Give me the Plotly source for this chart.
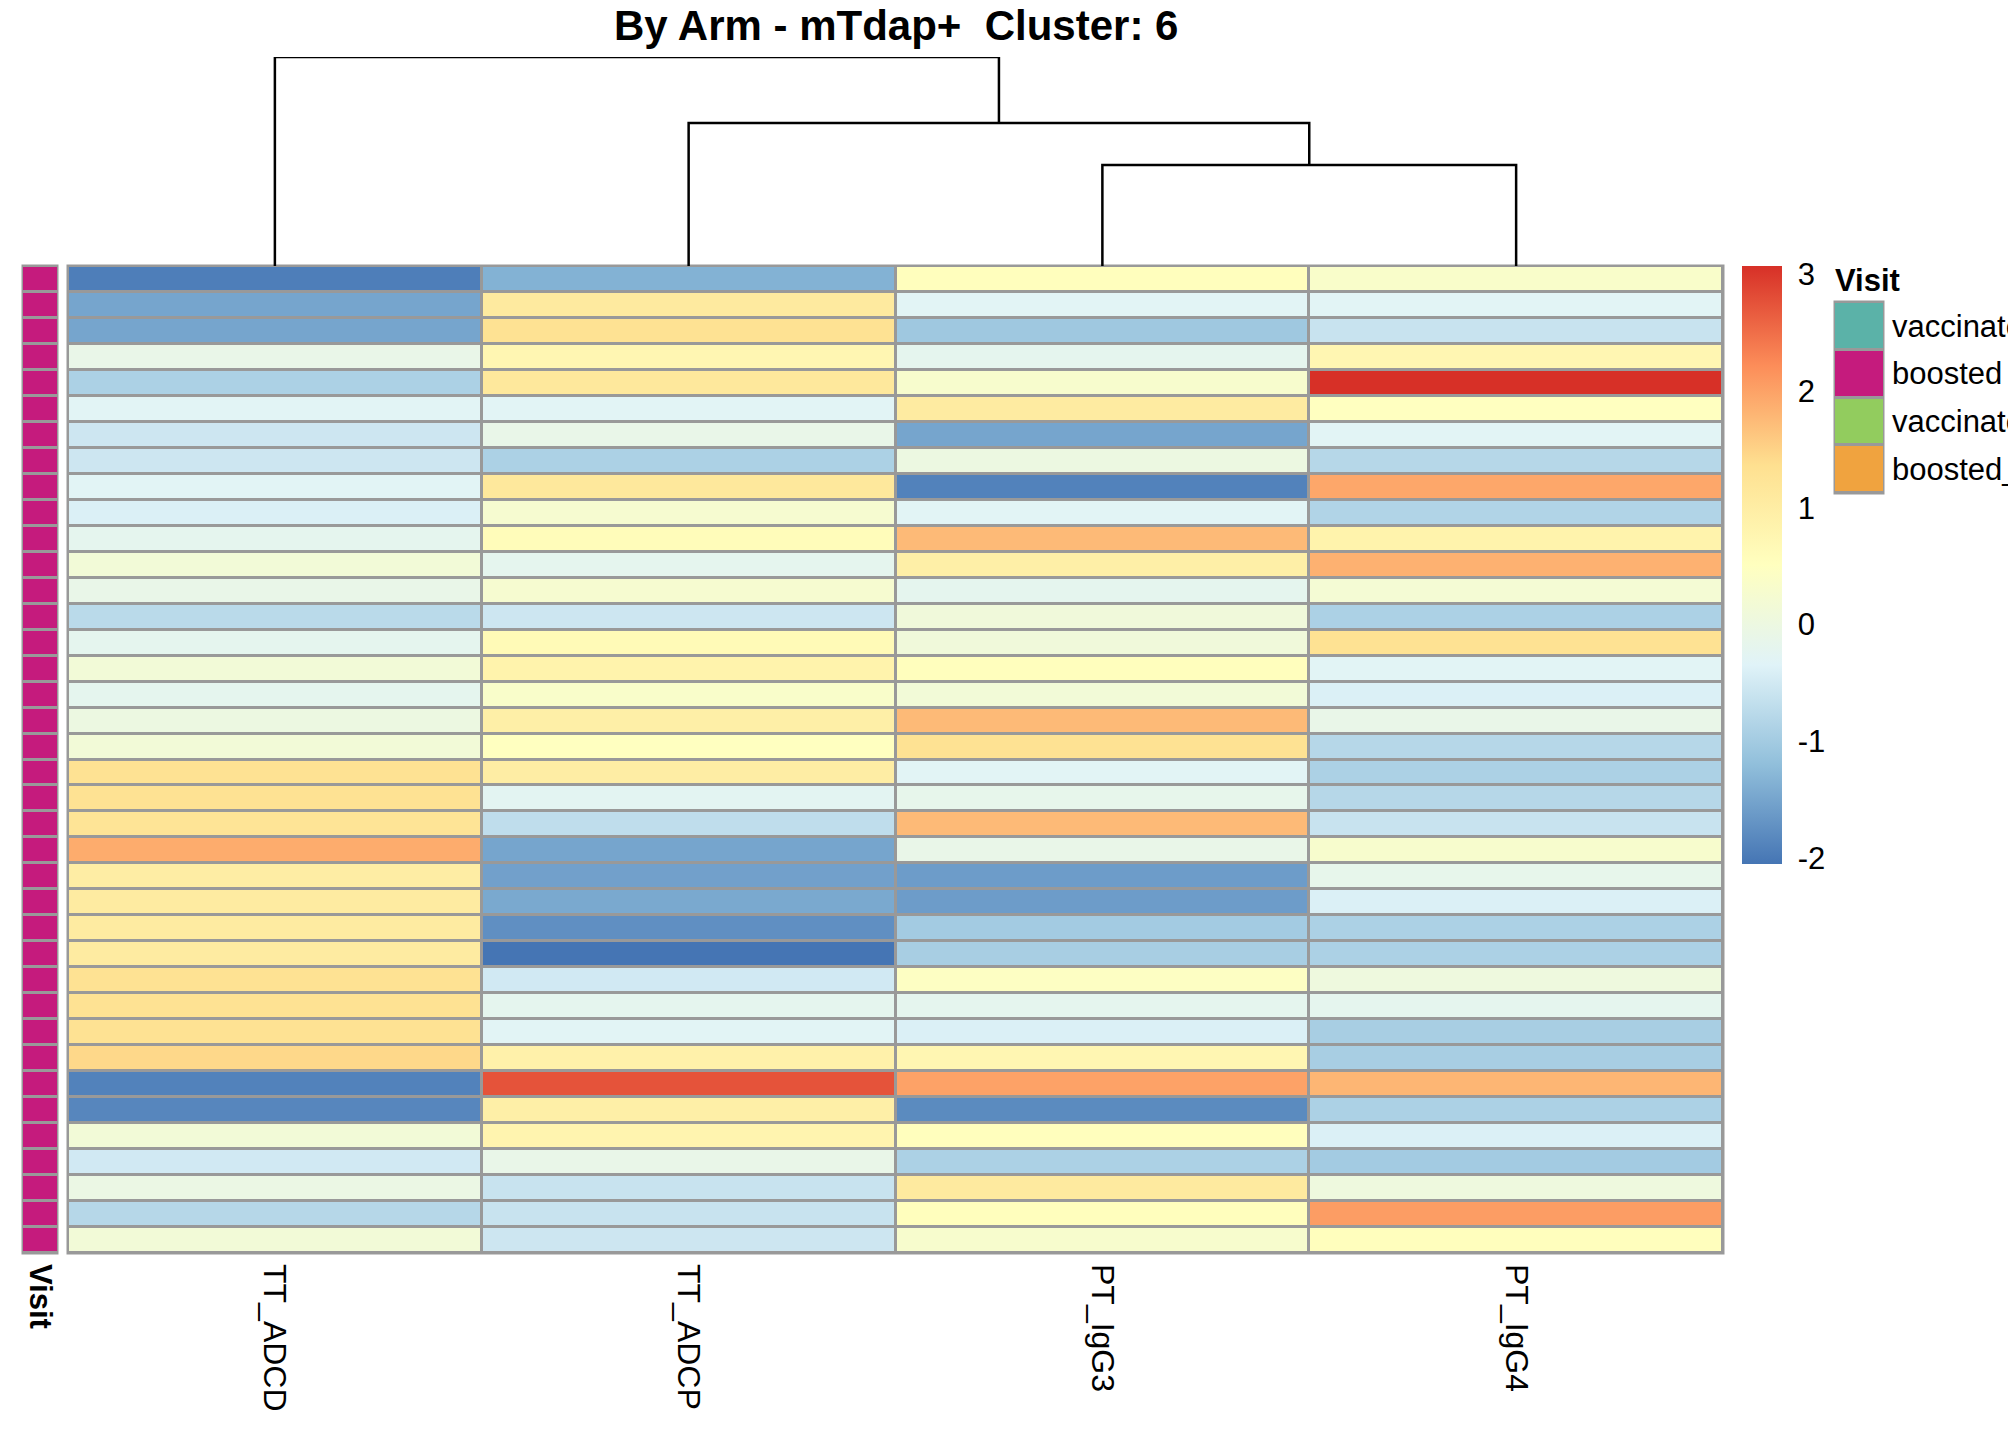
import plotly.graph_objects as go

W, H = 2016, 1440
FONT = "Liberation Sans, Arial, sans-serif"

# heatmap columns (order after clustering) and scaled values per row
columns = ["TT_ADCD", "TT_ADCP", "PT_IgG3", "PT_IgG4"]
tt_adcd = [-1.95, -1.5, -1.5, -0.1, -0.9, -0.3, -0.55, -0.55, -0.3, -0.4,
           -0.2, 0.15, -0.1, -0.75, -0.2, 0.15, -0.2, 0.0, 0.15, 1.3,
           1.3, 1.25, 1.9, 1.0, 1.05, 1.05, 1.05, 1.3, 1.3, 1.3,
           1.45, -1.9, -1.85, 0.15, -0.5, -0.05, -0.8, 0.15]
tt_adcp = [-1.35, 1.1, 1.3, 0.75, 1.15, -0.3, -0.1, -0.9, 1.15, 0.25,
           0.6, -0.2, 0.25, -0.55, 0.65, 0.85, 0.35, 0.95, 0.5, 1.0,
           -0.25, -0.7, -1.5, -1.55, -1.45, -1.75, -2.05, -0.5, -0.2, -0.3,
           0.9, 2.75, 0.95, 0.8, -0.1, -0.6, -0.6, -0.55]
pt_igg3 = [0.55, -0.3, -1.05, -0.2, 0.3, 1.05, -1.5, 0.0, -1.9, -0.3,
           1.75, 0.95, -0.2, 0.1, 0.1, 0.55, 0.15, 1.75, 1.3, -0.3,
           -0.15, 1.75, -0.1, -1.6, -1.6, -1.0, -0.95, 0.45, -0.2, -0.4,
           0.75, 2.0, -1.8, 0.55, -0.9, 1.1, 0.55, 0.3]
pt_igg4 = [0.35, -0.3, -0.6, 0.75, 3.07, 0.5, -0.3, -0.8, 1.95, -0.85,
           0.85, 1.85, 0.2, -0.9, 1.3, -0.3, -0.4, -0.1, -0.8, -0.9,
           -0.8, -0.6, 0.3, -0.15, -0.4, -0.9, -0.9, 0.05, -0.2, -0.95,
           -0.95, 1.8, -0.9, -0.4, -1.0, 0.05, 2.05, 0.55]

# row annotation
visit = ["boosted"] * 38
visit_levels = ["vaccinated", "boosted", "vaccinated_2", "boosted_2"]
visit_colors = ["#5BB2A8", "#C51B7D", "#92CC5E", "#F0A33F"]

# column dendrogram: merge i joins left/right (>=0 leaf index, <0 earlier merge), at height
merge_left = [2, 1, 0]
merge_right = [3, -1, -2]
merge_height = [0.483, 0.684, 1.0]

cbar_ticks = [-2, -1, 0, 1, 2, 3]
zmin, zmax = -2.05, 3.07
# pheatmap default: rev(brewer.pal(7, "RdYlBu"))
pal = ["#4575B4", "#91BFDB", "#E0F3F8", "#FFFFBF", "#FEE090", "#FC8D59", "#D73027"]
colorscale = [[i / (len(pal) - 1), c] for i, c in enumerate(pal)]

rows = list(range(1, len(tt_adcd) + 1))
z = [list(r) for r in zip(tt_adcd, tt_adcp, pt_igg3, pt_igg4)]

# page body has an 8px margin, so pixel targets are shifted back by it
OFF = 8


def fx(p):
    return (p - OFF) / W


def fy(p):
    return 1 - (p - OFF) / H


GRID = "#999999"
HM_X = [fx(68), fx(1723)]
HM_Y = [fy(1253), fy(266)]

fig = go.Figure()

fig.add_trace(go.Heatmap(
    z=z, x=columns, y=rows, xaxis="x", yaxis="y",
    colorscale=colorscale, zmin=zmin, zmax=zmax, xgap=3, ygap=3,
    colorbar=dict(x=fx(1742), xanchor="left", y=fy(266), yanchor="top",
                  lenmode="pixels", len=598, thickness=40, outlinewidth=0,
                  xpad=0, ypad=0, tickvals=cbar_ticks,
                  ticktext=[str(t) for t in cbar_ticks],
                  ticks="outside", ticklen=10, tickcolor="rgba(0,0,0,0)",
                  tickfont=dict(family=FONT, size=31, color="black")),
))

# visit annotation column
vis_idx = [[visit_levels.index(v)] for v in visit]
vis_scale = [[i / (len(visit_colors) - 1), c] for i, c in enumerate(visit_colors)]
fig.add_trace(go.Heatmap(
    z=vis_idx, x=["Visit"], y=rows, xaxis="x2", yaxis="y2",
    colorscale=vis_scale, zmin=0, zmax=len(visit_levels) - 1,
    showscale=False, ygap=3,
))

# legend swatches
fig.add_trace(go.Heatmap(
    z=[[i] for i in range(len(visit_levels))], x=[0], y=visit_levels,
    xaxis="x3", yaxis="y3",
    colorscale=vis_scale, zmin=0, zmax=len(visit_levels) - 1,
    showscale=False, ygap=3,
))

# dendrogram
node_x, node_h = [], []
dx, dy = [], []
for l, r, h in zip(merge_left, merge_right, merge_height):
    xl, hl = (l, 0) if l >= 0 else (node_x[-l - 1], node_h[-l - 1])
    xr, hr = (r, 0) if r >= 0 else (node_x[-r - 1], node_h[-r - 1])
    dx += [xl, xl, xr, xr, None]
    dy += [hl, h, h, hr, None]
    node_x.append((xl + xr) / 2)
    node_h.append(h)
fig.add_trace(go.Scatter(
    x=dx, y=dy, xaxis="x4", yaxis="y4", mode="lines",
    line=dict(color="black", width=2.5), cliponaxis=False, showlegend=False,
))

noax = dict(showgrid=False, zeroline=False, showline=False, ticks="",
            showticklabels=False, automargin=False)

fig.update_layout(
    width=W, height=H, margin=dict(l=0, r=0, t=0, b=0, autoexpand=False),
    paper_bgcolor="white", plot_bgcolor="white", showlegend=False,
    font=dict(family=FONT, color="black"),
    xaxis=dict(noax, domain=HM_X, showticklabels=True, tickangle=90,
               ticklabelstandoff=10, tickfont=dict(size=32), range=[-0.5, 3.5]),
    yaxis=dict(noax, domain=HM_Y, autorange="reversed"),
    xaxis2=dict(noax, domain=[fx(23), fx(57)], showticklabels=True, tickangle=90,
                tickvals=["Visit"], ticktext=["<b>Visit</b>"],
                ticklabelstandoff=10, tickfont=dict(size=31)),
    yaxis2=dict(noax, domain=HM_Y, autorange="reversed", anchor="x2"),
    xaxis3=dict(noax, domain=[fx(1835), fx(1883)], anchor="y3"),
    yaxis3=dict(noax, domain=[fy(493), fy(302)], anchor="x3", autorange="reversed",
                side="right", showticklabels=True, ticklabelstandoff=8,
                tickfont=dict(size=31)),
    xaxis4=dict(noax, domain=HM_X, range=[-0.5, 3.5], anchor="y4"),
    yaxis4=dict(noax, domain=[fy(266), fy(57)], range=[0, 1], anchor="x4"),
)

# grey cell borders / frames behind the tiles
for xr_, yr_ in [("x", "y"), ("x2", "y2"), ("x3", "y3")]:
    fig.add_shape(type="rect", xref=xr_ + " domain", yref=yr_ + " domain",
                  x0=0, x1=1, y0=0, y1=1, layer="below",
                  fillcolor=GRID, line=dict(color=GRID, width=3))

fig.add_annotation(text="<b>By Arm - mTdap+  Cluster: 6</b>", xref="paper", yref="paper",
                   x=(HM_X[0] + HM_X[1]) / 2, y=fy(26), showarrow=False,
                   font=dict(size=42), xanchor="center", yanchor="middle")
fig.add_annotation(text="<b>Visit</b>", xref="paper", yref="paper",
                   x=fx(1833), y=fy(280), showarrow=False,
                   font=dict(size=31), xanchor="left", yanchor="middle")

fig.write_html("out.html")
